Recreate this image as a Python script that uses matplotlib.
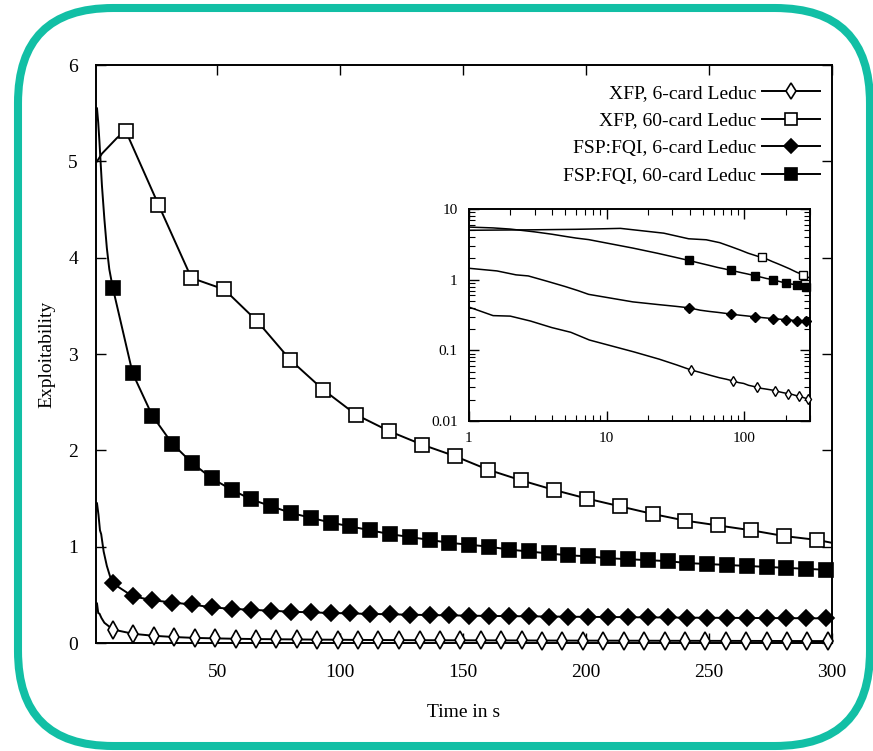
import matplotlib
matplotlib.use("Agg")
import matplotlib.pyplot as plt
from matplotlib.lines import Line2D
from matplotlib.patches import FancyBboxPatch
from matplotlib.ticker import LogLocator, NullFormatter, FixedLocator

plt.rcParams['font.family'] = ['Liberation Serif', 'DejaVu Serif']

# --- data ---
# XFP, 60-card Leduc (open squares)
xfp60_t = [12.6, 26.0, 39.4, 52.8, 66.2, 79.6, 93.0, 106.4, 119.8, 133.2, 146.6,
           160.0, 173.4, 186.8, 200.2, 213.6, 227.0, 240.4, 253.8, 267.2, 280.6, 294.0]
xfp60_v = [5.32, 4.55, 3.79, 3.67, 3.34, 2.94, 2.63, 2.37, 2.20, 2.06, 1.94,
           1.80, 1.69, 1.59, 1.50, 1.42, 1.34, 1.27, 1.22, 1.17, 1.11, 1.07]
xfp60_t0 = [1, 3, 6, 9]
xfp60_v0 = [5.0, 5.08, 5.16, 5.24]

# FSP:FQI, 60-card Leduc (filled squares)
fsp_t = [7.4, 15.5, 23.5, 31.6, 39.6, 47.7, 55.8, 63.8, 71.9, 79.9, 88.0, 96.1,
         104.1, 112.2, 120.2, 128.3, 136.4, 144.4, 152.5, 160.5, 168.6, 176.7,
         184.7, 192.8, 200.8, 208.9, 217.0, 225.0, 233.1, 241.1, 249.2, 257.3,
         265.3, 273.4, 281.4, 289.5, 297.6]
fsp60_v = [3.69, 2.80, 2.36, 2.07, 1.87, 1.71, 1.59, 1.49, 1.42, 1.35, 1.30, 1.25,
           1.21, 1.17, 1.13, 1.10, 1.07, 1.04, 1.02, 1.00, 0.97, 0.95, 0.93, 0.91,
           0.90, 0.88, 0.87, 0.86, 0.85, 0.83, 0.82, 0.81, 0.80, 0.79, 0.78, 0.77, 0.76]
fsp60_t0 = [1, 1.5, 2, 3, 4, 5, 6]
fsp60_v0 = [5.55, 5.4, 5.2, 4.75, 4.4, 4.1, 3.88]

# FSP:FQI, 6-card Leduc (filled diamonds)
fsp6_v = [0.62, 0.485, 0.445, 0.42, 0.40, 0.37, 0.355, 0.345, 0.335, 0.325, 0.318,
          0.312, 0.307, 0.302, 0.298, 0.294, 0.29, 0.287, 0.284, 0.281, 0.279, 0.277,
          0.275, 0.273, 0.271, 0.27, 0.268, 0.266, 0.265, 0.263, 0.262, 0.261, 0.26,
          0.259, 0.258, 0.257, 0.256]
fsp6_t0 = [1, 1.6, 2.2, 2.7, 3.7, 5, 6.2]
fsp6_v0 = [1.45, 1.33, 1.17, 1.13, 0.95, 0.8, 0.7]

# XFP, 6-card Leduc (open diamonds)
xfp6_t = [7.5, 15.8, 24.1, 32.4, 40.7, 49.1, 57.4, 65.7, 74.0, 82.3, 90.6, 98.9,
          107.2, 115.5, 123.8, 132.2, 140.5, 148.8, 157.1, 165.4, 173.7, 182.0,
          190.3, 198.6, 206.9, 215.3, 223.6, 231.9, 240.2, 248.5, 256.8, 265.1,
          273.4, 281.7, 290.0, 298.4]
xfp6_v = [0.14, 0.095, 0.075, 0.062, 0.053, 0.048, 0.044, 0.041, 0.039, 0.037,
          0.035, 0.034, 0.032, 0.031, 0.030, 0.029, 0.0285, 0.028, 0.0275, 0.027,
          0.0263, 0.0257, 0.0252, 0.0248, 0.0245, 0.0241, 0.0237, 0.0232, 0.0228,
          0.0224, 0.022, 0.0216, 0.0212, 0.0208, 0.0204, 0.0200]
xfp6_t0 = [1, 1.5, 2, 2.8, 4, 5.5]
xfp6_v0 = [0.41, 0.31, 0.305, 0.26, 0.21, 0.18]

# line end at the right edge
t_end = 300
end_v = {'xfp6': 0.02, 'xfp60': 1.04, 'fsp6': 0.256, 'fsp60': 0.76}

# label, early t, early v, marker t, marker v, end v, marker, face, size, inset marker slice
series = [
    ('XFP, 6-card Leduc', xfp6_t0, xfp6_v0, xfp6_t, xfp6_v, end_v['xfp6'], 'd', 'white', 9, slice(4, None, 5)),
    ('XFP, 60-card Leduc', xfp60_t0, xfp60_v0, xfp60_t, xfp60_v, end_v['xfp60'], 's', 'white', 9.5, slice(9, None, 10)),
    ('FSP:FQI, 6-card Leduc', fsp6_t0, fsp6_v0, fsp_t, fsp6_v, end_v['fsp6'], 'D', 'black', 8, slice(4, None, 5)),
    ('FSP:FQI, 60-card Leduc', fsp60_t0, fsp60_v0, fsp_t, fsp60_v, end_v['fsp60'], 's', 'black', 10, slice(4, None, 5)),
]

fig = plt.figure(figsize=(8.73, 7.51), dpi=100)

# rounded teal frame, in pixel units
bg = fig.add_axes([0, 0, 1, 1], zorder=-5)
bg.set_xlim(0, 873)
bg.set_ylim(751, 0)
bg.axis('off')
bg.add_patch(FancyBboxPatch((18, 8), 852, 738, boxstyle="round,pad=0,rounding_size=95",
                            fill=False, edgecolor='#12bfa5', linewidth=5.8))

ax = fig.add_axes([0.110, 0.1438, 0.843, 0.7696])
ax.set_facecolor('none')
handles = []
for label, t0, v0, tm, vm, ve, mk, fc, ms, _ in series:
    tt = t0 + tm + [t_end]
    vv = v0 + vm + [ve]
    ax.plot(tt, vv, color='black', lw=1.4, zorder=3)
    ax.plot(tm, vm, ls='none', marker=mk, ms=ms, mfc=fc, mec='black', mew=1.2,
            zorder=4, clip_on=False)
    handles.append(Line2D([], [], color='black', lw=1.4, marker=mk, ms=ms * 0.85,
                          mfc=fc, mec='black', mew=1.2))

ax.set_xlim(0.6, 300)
ax.set_ylim(0, 6)
ax.set_xticks([50, 100, 150, 200, 250, 300])
ax.set_yticks([0, 1, 2, 3, 4, 5, 6])
ax.tick_params(direction='in', length=7, width=1, top=True, right=True,
               labelsize=14)
ax.tick_params(axis='x', pad=15)
ax.tick_params(axis='y', pad=13)
for s in ax.spines.values():
    s.set_linewidth(1.4)
ax.set_xlabel('Time in s', fontsize=14, labelpad=17)
ax.set_ylabel('Exploitability', fontsize=14, labelpad=9)

leg = ax.legend(handles, [s[0] for s in series], loc='upper right', frameon=False,
                markerfirst=False, fontsize=14, handlelength=3.0, handletextpad=0.3,
                labelspacing=0.52, bbox_to_anchor=(1.0, 0.987), borderaxespad=0.2)

# inset, log-log
ins = fig.add_axes([0.537, 0.4394, 0.391, 0.2823])
for label, t0, v0, tm, vm, ve, mk, fc, ms, sl in series:
    tt = t0 + tm + [t_end]
    vv = v0 + vm + [ve]
    ins.plot(tt, vv, color='black', lw=1.1, zorder=3)
    ins.plot(tm[sl], vm[sl], ls='none', marker=mk, ms=ms * 0.6, mfc=fc, mec='black',
             mew=1.0, zorder=4, clip_on=False)
ins.set_xscale('log')
ins.set_yscale('log')
ins.set_xlim(1, 300)
ins.set_ylim(0.01, 10)
ins.xaxis.set_major_locator(FixedLocator([1, 10, 100]))
ins.set_xticklabels(['1', '10', '100'])
ins.yaxis.set_major_locator(FixedLocator([0.01, 0.1, 1, 10]))
ins.set_yticklabels(['0.01', '0.1', '1', '10'])
ins.xaxis.set_minor_locator(LogLocator(subs=range(2, 10)))
ins.yaxis.set_minor_locator(LogLocator(subs=range(2, 10)))
ins.xaxis.set_minor_formatter(NullFormatter())
ins.yaxis.set_minor_formatter(NullFormatter())
ins.tick_params(which='major', direction='in', length=7, width=1, top=True,
                right=True, labelsize=11, pad=8)
ins.tick_params(which='minor', direction='in', length=4, width=0.8, top=True, right=True)
for s in ins.spines.values():
    s.set_linewidth(1.4)

fig.savefig('out.png', dpi=100)
